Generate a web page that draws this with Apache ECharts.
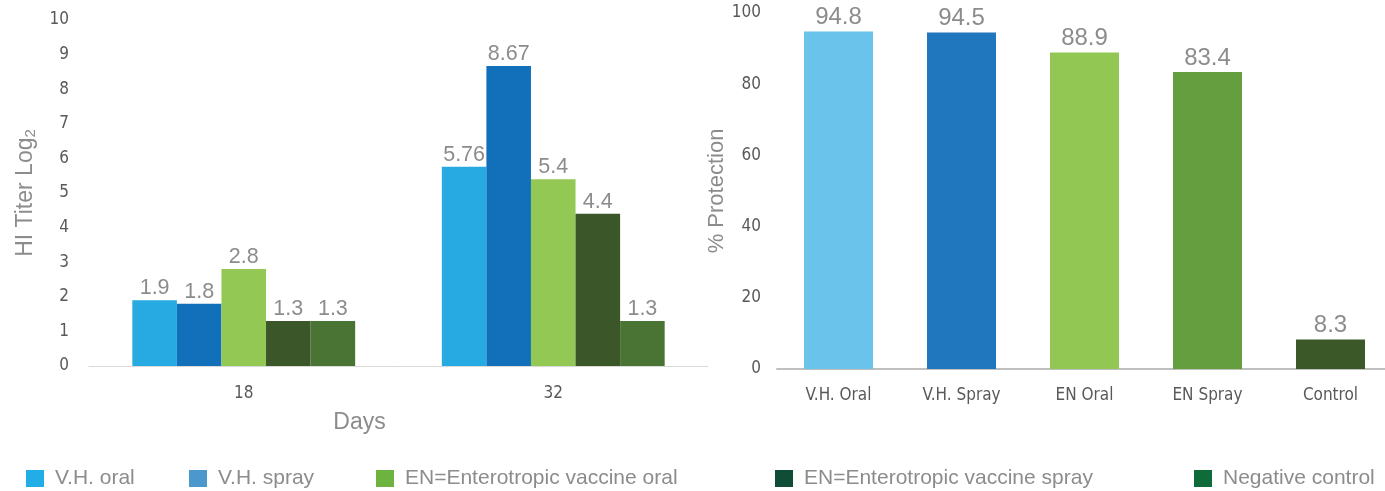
<!DOCTYPE html>
<html><head><meta charset="utf-8">
<script src="https://cdn.jsdelivr.net/npm/echarts@6/dist/echarts.min.js"></script>
<style>html,body{margin:0;padding:0;background:#fff}#c{width:1385px;height:491px}</style>
</head><body><div id="c"></div>
<script>
// ---- data ----
const days = ['18', '32'];
const seriesNames = ['V.H. oral', 'V.H. spray', 'EN=Enterotropic vaccine oral', 'EN=Enterotropic vaccine spray', 'Negative control'];
const vhOral = [1.9, 5.76];
const vhSpray = [1.8, 8.67];
const enOral = [2.8, 5.4];
const enSpray = [1.3, 4.4];
const negControl = [1.3, 1.3];
const titerValues = [vhOral, vhSpray, enOral, enSpray, negControl];

const groups = ['V.H. Oral', 'V.H. Spray', 'EN Oral', 'EN Spray', 'Control'];
const protection = [94.8, 94.5, 88.9, 83.4, 8.3];

// ---- styles ----
const barColors = ['#27aae1', '#1170b9', '#92c853', '#3b5628', '#4a7434'];
const legendColors = ['#21ade5', '#4a98cc', '#6db33f', '#0f4d36', '#0f6b3a'];
const protColors = ['#69c3ea', '#2177bd', '#92c753', '#659e3f', '#3b5828'];
const legendLefts = [26, 189, 376, 775, 1194];
const condensed = '"Liberation Sans Narrow","DejaVu Sans Condensed","Open Sans",sans-serif';
const arial = '"Liberation Sans",Arial,sans-serif';

const chart = echarts.init(document.getElementById('c'), null, {renderer: 'canvas'});

const series = titerValues.map((vals, i) => ({
  type: 'bar', name: seriesNames[i], xAxisIndex: 0, yAxisIndex: 0,
  data: vals, barGap: '0%', barCategoryGap: '28%',
  itemStyle: {color: barColors[i]},
  label: {show: true, position: 'top', distance: 1, color: '#8c8c8c', fontSize: 21.5, fontFamily: arial}
}));
series.push({
  type: 'bar', name: '% Protection', xAxisIndex: 1, yAxisIndex: 1,
  data: protection.map((v, i) => ({value: v, itemStyle: {color: protColors[i]}})),
  barWidth: 69,
  label: {show: true, position: 'top', distance: 2, color: '#8c8c8c', fontSize: 24, fontFamily: arial}
});

chart.setOption({
  animation: false,
  legend: seriesNames.map((n, i) => ({
    data: [{name: n, itemStyle: {color: legendColors[i]}}],
    left: legendLefts[i], top: 468, padding: 0, itemWidth: 18, itemHeight: 17, icon: 'rect',
    selectedMode: false,
    textStyle: {color: '#8c8c8c', fontSize: 21, fontFamily: arial, padding: [0, 0, 0, 6]}
  })),
  grid: [
    {left: 89, right: 677, top: 20, bottom: 125},
    {left: 838.5, right: 54.5, top: 13, bottom: 122},
    {left: 777, right: 0, top: 13, bottom: 122}
  ],
  xAxis: [
    {type: 'category', gridIndex: 0, data: days,
     axisLine: {lineStyle: {color: '#d9d9d9', width: 1}}, axisTick: {show: false},
     axisLabel: {color: '#595959', fontSize: 17, fontFamily: condensed, margin: 19},
     name: 'Days', nameLocation: 'middle', nameGap: 45,
     nameTextStyle: {color: '#8c8c8c', fontSize: 23, fontFamily: arial, padding: [0, 78, 0, 0]}},
    {type: 'category', gridIndex: 1, data: groups, boundaryGap: false,
     axisLine: {show: false}, axisTick: {show: false},
     axisLabel: {color: '#595959', fontSize: 17, fontFamily: condensed, margin: 18}},
    {type: 'value', gridIndex: 2, min: 0, max: 1, show: true,
     axisLine: {show: true, lineStyle: {color: '#bfbfbf', width: 2}}, axisTick: {show: false},
     axisLabel: {show: false}, splitLine: {show: false}}
  ],
  yAxis: [
    {type: 'value', gridIndex: 0, min: 0, max: 10, interval: 1,
     splitLine: {show: false}, axisLine: {show: false}, axisTick: {show: false},
     axisLabel: {color: '#595959', fontSize: 17, fontFamily: condensed, margin: 20},
     name: 'HI Titer Log{s|2}', nameLocation: 'middle', nameGap: 51,
     nameTextStyle: {color: '#8c8c8c', fontSize: 23, fontFamily: arial,
       rich: {s: {color: '#8c8c8c', fontSize: 15, fontFamily: arial, padding: [9, 0, 0, 0]}}}},
    {type: 'value', gridIndex: 1, min: 0, max: 100, interval: 20,
     splitLine: {show: false}, axisLine: {show: false}, axisTick: {show: false},
     axisLabel: {color: '#595959', fontSize: 17, fontFamily: condensed, margin: 77.5},
     name: '% Protection', nameLocation: 'middle', nameGap: 105.5,
     nameTextStyle: {color: '#8c8c8c', fontSize: 22, fontFamily: arial}},
    {type: 'value', gridIndex: 2, min: 0, max: 1, show: false}
  ],
  series: series
});
</script></body></html>
